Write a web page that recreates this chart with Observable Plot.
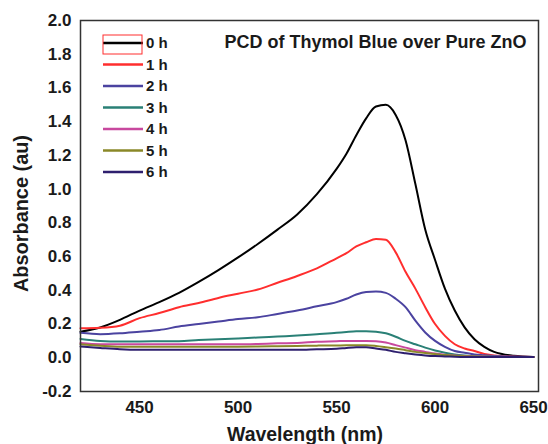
<!DOCTYPE html>
<html>
<head>
<meta charset="utf-8">
<script src="https://cdn.jsdelivr.net/npm/d3@7"></script>
<script src="https://cdn.jsdelivr.net/npm/@observablehq/plot@0.6"></script>
<style>
  html, body { margin: 0; padding: 0; background: #fff; }
  #chart svg { display: block; }
  #chart text { fill: #1a1a1a; }
</style>
</head>
<body>
<div id="chart"></div>
<script>
const wavelength = [420,430,440,450,460,470,480,490,500,510,520,530,540,550,555,560,565,570,575,580,585,590,595,600,605,610,615,620,625,630,640,650];
const h0 = [0.155,0.18,0.225,0.28,0.33,0.385,0.45,0.52,0.595,0.675,0.76,0.85,0.97,1.12,1.21,1.32,1.42,1.49,1.50,1.44,1.29,1.03,0.76,0.58,0.41,0.28,0.18,0.11,0.065,0.035,0.012,0.005];
const h1 = [0.175,0.178,0.19,0.235,0.265,0.30,0.325,0.355,0.38,0.405,0.445,0.485,0.53,0.59,0.62,0.66,0.685,0.705,0.70,0.625,0.51,0.41,0.30,0.20,0.13,0.08,0.055,0.04,0.022,0.014,0.007,0.005];
const h2 = [0.148,0.14,0.145,0.155,0.165,0.185,0.20,0.215,0.23,0.24,0.26,0.28,0.305,0.33,0.35,0.375,0.39,0.393,0.385,0.35,0.30,0.22,0.15,0.10,0.065,0.04,0.03,0.02,0.015,0.01,0.007,0.005];
const h3 = [0.112,0.10,0.097,0.097,0.098,0.098,0.105,0.11,0.115,0.12,0.126,0.132,0.14,0.148,0.153,0.157,0.158,0.155,0.145,0.125,0.10,0.08,0.06,0.043,0.03,0.02,0.014,0.01,0.008,0.006,0.005,0.005];
const h4 = [0.087,0.08,0.08,0.08,0.08,0.08,0.08,0.08,0.08,0.082,0.086,0.088,0.095,0.098,0.10,0.10,0.10,0.098,0.09,0.075,0.06,0.045,0.035,0.025,0.018,0.013,0.01,0.008,0.007,0.006,0.005,0.005];
const h5 = [0.08,0.072,0.066,0.065,0.065,0.065,0.065,0.065,0.066,0.067,0.068,0.07,0.072,0.073,0.074,0.074,0.074,0.07,0.063,0.055,0.045,0.035,0.028,0.022,0.016,0.012,0.009,0.007,0.006,0.005,0.005,0.005];
const h6 = [0.067,0.058,0.05,0.047,0.047,0.047,0.047,0.047,0.047,0.047,0.047,0.047,0.05,0.053,0.058,0.062,0.063,0.055,0.047,0.035,0.027,0.02,0.014,0.01,0.008,0.006,0.005,0.005,0.005,0.005,0.005,0.005];
const seriesLabels = ["0 h","1 h","2 h","3 h","4 h","5 h","6 h"];
const seriesColors = ["#000000","#ff2e2e","#4b43a0","#2a8076","#c8489e","#8a8828","#2e1f6e"];
const seriesValues = [h0,h1,h2,h3,h4,h5,h6];
const xTicks = [450,500,550,600,650];
const yTicks = [-0.2,0,0.2,0.4,0.6,0.8,1.0,1.2,1.4,1.6,1.8,2.0];
const titleText = "PCD of Thymol Blue over Pure ZnO";
const xLabel = "Wavelength (nm)";
const yLabel = "Absorbance (au)";

const data = [];
seriesValues.forEach((vals, i) => {
  vals.forEach((v, j) => data.push({wl: wavelength[j], a: v, s: seriesLabels[i]}));
});

const font = "'Liberation Sans', Arial, sans-serif";
const chart = Plot.plot({
  width: 548,
  height: 444,
  marginLeft: 80,
  marginRight: 10,
  marginTop: 20,
  marginBottom: 53,
  style: {fontFamily: font, background: "#fff"},
  x: {domain: [420, 652.5]},
  y: {domain: [-0.2, 2.0]},
  color: {domain: seriesLabels, range: seriesColors},
  marks: [
    Plot.line(data, {x: "wl", y: "a", z: "s", stroke: "s", strokeWidth: 2, curve: "monotone-x"}),
    Plot.frame({stroke: "#333", strokeWidth: 1.5}),
    Plot.axisX({ticks: xTicks, tickSize: 0, tickPadding: 9, label: null, fontSize: 17, fontWeight: "bold", tickFormat: d => String(d)}),
    Plot.axisY({ticks: yTicks, tickSize: 0, tickPadding: 9, label: null, fontSize: 17, fontWeight: "bold", tickFormat: d => d.toFixed(1)}),
    Plot.text([titleText], {text: d => d, frameAnchor: "top-right", dx: -12, dy: 15, fontSize: 18, fontWeight: "bold", textAnchor: "end"})
  ]
});
document.getElementById("chart").appendChild(chart);

const svg = d3.select(chart);

// axis titles
svg.append("text")
  .attr("transform", "translate(305,434)")
  .attr("text-anchor", "middle").attr("dy", "0.35em")
  .attr("font-family", font).attr("font-size", 20).attr("font-weight", "bold")
  .attr("textLength", 156).attr("lengthAdjust", "spacingAndGlyphs")
  .attr("fill", "#1a1a1a").text(xLabel);
svg.append("text")
  .attr("transform", "translate(21,213.5) rotate(-90)")
  .attr("text-anchor", "middle").attr("dy", "0.35em")
  .attr("font-family", font).attr("font-size", 19.5).attr("font-weight", "bold")
  .attr("textLength", 157).attr("lengthAdjust", "spacingAndGlyphs")
  .attr("fill", "#1a1a1a").text(yLabel);

// legend inside the plot area
const lg = svg.append("g").attr("font-family", font).attr("text-anchor", "start");
seriesLabels.forEach((lab, i) => {
  const y = 43 + i * 21.5;
  lg.append("line").attr("x1", 103).attr("x2", 143).attr("y1", y).attr("y2", y)
    .attr("stroke", seriesColors[i]).attr("stroke-width", 2.5);
  lg.append("text").attr("x", 146).attr("y", y).attr("dy", "0.35em")
    .attr("text-anchor", "start")
    .attr("font-size", 15).attr("font-weight", "bold").attr("fill", "#1a1a1a").text(lab);
});
lg.append("rect").attr("x", 103).attr("y", 35).attr("width", 39).attr("height", 19)
  .attr("fill", "none").attr("stroke", "#ff2e2e").attr("stroke-width", 1);
</script>
</body>
</html>
